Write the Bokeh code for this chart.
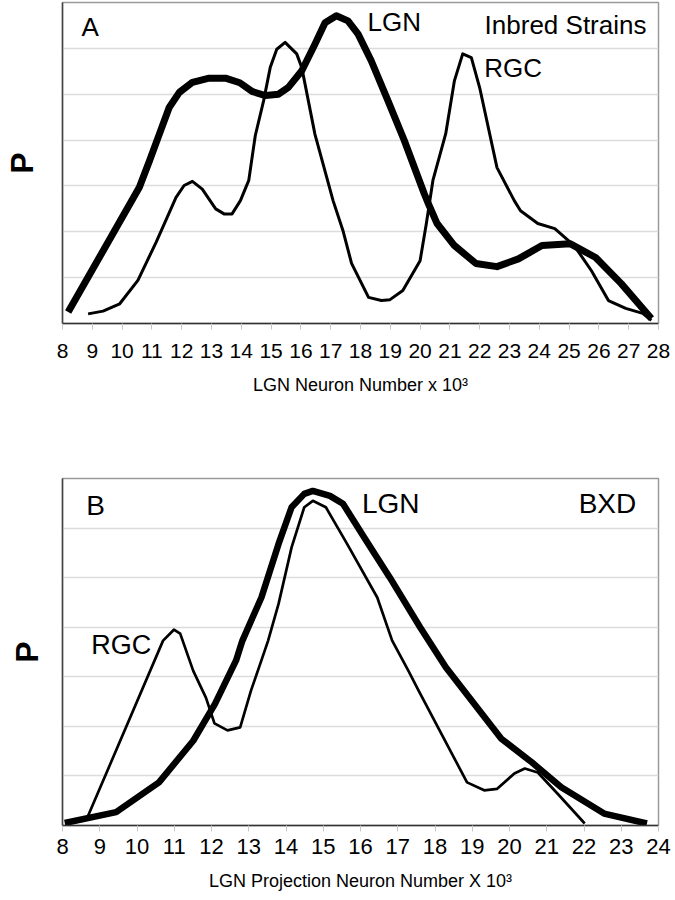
from bokeh.plotting import figure
from bokeh.models import FixedTicker, Label, Range1d
from bokeh.layouts import column
from bokeh.embed import file_html
from bokeh.resources import INLINE

# ---------------- Panel A: Inbred Strains ----------------
a_ticks = list(range(8, 29))
a_xlabel = "LGN Neuron Number x 10³"

lgn_a_x = [8.19, 10.58, 10.92, 11.25, 11.58, 11.92, 12.36, 12.92, 13.47, 13.95, 14.36,
           14.81, 15.25, 15.58, 16.03, 16.47, 16.81, 17.19, 17.58, 17.92, 18.36, 18.92,
           19.47, 20.14, 20.28, 20.57, 21.15, 21.87, 22.58, 23.3, 24.09, 25.03, 25.89,
           26.75, 27.76]
lgn_a_y = [0.25, 2.97, 3.55, 4.13, 4.71, 5.04, 5.26, 5.35, 5.35, 5.25, 5.06,
           4.97, 5.00, 5.15, 5.51, 6.09, 6.56, 6.71, 6.60, 6.31, 5.73, 4.86,
           3.99, 2.83, 2.61, 2.18, 1.70, 1.31, 1.24, 1.41, 1.70, 1.74, 1.44,
           0.87, 0.11]

rgc_a_x = [8.86, 9.36, 9.92, 10.53, 11.14, 11.81, 12.08, 12.36, 12.69, 13.14, 13.42,
           13.69, 13.97, 14.25, 14.47, 14.75, 14.97, 15.19, 15.47, 15.86, 16.03, 16.47,
           17.08, 17.41, 17.7, 18.27, 18.7, 18.99, 19.42, 20.0, 20.21, 20.43, 20.86,
           21.15, 21.43, 21.72, 22.0, 22.58, 23.16, 23.37, 23.95, 24.52, 25.17, 25.75,
           26.32, 26.9, 27.47, 27.76]
rgc_a_y = [0.21, 0.27, 0.43, 0.94, 1.77, 2.75, 3.01, 3.10, 2.93, 2.50, 2.39,
           2.39, 2.68, 3.12, 4.10, 4.86, 5.58, 5.98, 6.13, 5.88, 5.58, 4.13,
           2.68, 2.03, 1.31, 0.57, 0.50, 0.52, 0.72, 1.37, 2.18, 3.12, 4.14,
           5.29, 5.88, 5.80, 5.14, 3.40, 2.68, 2.46, 2.18, 2.07, 1.70, 1.15,
           0.50, 0.33, 0.22, 0.07]

# ---------------- Panel B: BXD ----------------
b_ticks = list(range(8, 25))
b_xlabel = "LGN Projection Neuron Number X 10³"

lgn_b_x = [8.06, 9.44, 10.59, 11.51, 12.09, 12.66, 12.83, 13.34, 13.8, 14.15, 14.49,
           14.72, 15.18, 15.53, 16.1, 16.79, 17.6, 18.29, 19.78, 20.59, 21.39, 22.54, 23.69]
lgn_b_y = [0.05, 0.27, 0.87, 1.71, 2.45, 3.33, 3.73, 4.60, 5.68, 6.42, 6.69,
           6.75, 6.65, 6.49, 5.81, 5.00, 4.00, 3.19, 1.75, 1.28, 0.77, 0.24, 0.04]

rgc_b_x = [8.69, 10.7, 10.99, 11.16, 11.51, 11.85, 12.08, 12.43, 12.77, 13.06, 13.34,
           13.52, 13.8, 14.15, 14.49, 14.72, 15.07, 15.64, 16.45, 16.85, 17.28, 17.56,
           18.86, 19.32, 19.67, 20.13, 20.41, 20.76, 21.28, 22.02]
rgc_b_y = [0.20, 3.73, 3.95, 3.87, 3.12, 2.58, 2.06, 1.92, 1.98, 2.72, 3.33,
           3.73, 4.47, 5.61, 6.42, 6.55, 6.42, 5.68, 4.60, 3.73, 3.13, 2.72,
           0.87, 0.71, 0.74, 1.05, 1.15, 1.07, 0.65, 0.04]

HELV = "Liberation Sans"


def make_panel(xmin, xmax, ticks, xlabel, width, height, mb_left, mb_right, mb_top, mb_bottom,
               tick_size, label_standoff, title_standoff, p_standoff):
    p = figure(width=width, height=height, x_range=Range1d(xmin, xmax), y_range=Range1d(0, 7),
               output_backend="svg", toolbar_location=None,
               min_border_left=mb_left, min_border_right=mb_right,
               min_border_top=mb_top, min_border_bottom=mb_bottom)
    p.background_fill_color = "white"
    p.border_fill_color = "white"
    p.outline_line_color = "#9a9a9a"
    p.outline_line_width = 1.5
    p.xgrid.visible = False
    p.ygrid.ticker = FixedTicker(ticks=[1, 2, 3, 4, 5, 6])
    p.ygrid.grid_line_color = "#dcdcdc"
    p.ygrid.grid_line_width = 1.5

    p.yaxis.ticker = FixedTicker(ticks=[])
    p.yaxis.axis_line_color = "#444444"
    p.yaxis.axis_line_width = 1.5
    p.yaxis.major_tick_line_color = None
    p.yaxis.minor_tick_line_color = None
    p.yaxis.axis_label = "P"
    p.yaxis.axis_label_text_font = HELV
    p.yaxis.axis_label_text_font_size = "32px"
    p.yaxis.axis_label_text_font_style = "bold"
    p.yaxis.axis_label_text_color = "black"
    p.yaxis.axis_label_standoff = p_standoff

    p.xaxis.ticker = FixedTicker(ticks=ticks)
    p.xaxis.minor_tick_line_color = None
    p.xaxis.major_tick_in = 0
    p.xaxis.major_tick_out = 6
    p.xaxis.major_tick_line_color = "#c8c8c8"
    p.xaxis.axis_line_color = "#333333"
    p.xaxis.axis_line_width = 1.5
    p.xaxis.major_label_text_font = HELV
    p.xaxis.major_label_text_font_size = tick_size
    p.xaxis.major_label_text_color = "black"
    p.xaxis.major_label_standoff = label_standoff
    p.xaxis.axis_label = xlabel
    p.xaxis.axis_label_text_font = HELV
    p.xaxis.axis_label_text_font_size = "18px"
    p.xaxis.axis_label_text_font_style = "normal"
    p.xaxis.axis_label_text_color = "black"
    p.xaxis.axis_label_standoff = title_standoff
    return p


def add_label(p, x, y, text, size):
    p.add_layout(Label(x=x, y=y, text=text, text_font=HELV, text_font_size=size,
                       text_align="center", text_baseline="middle", text_color="black"))


pA = make_panel(8, 28, a_ticks, a_xlabel, 675, 403, 62, 13, 2, 80, "21px", 14, 14, 23)
pA.line(rgc_a_x, rgc_a_y, line_width=3, line_color="black", line_join="round")
pA.line(lgn_a_x, lgn_a_y, line_width=7, line_color="black", line_join="round")
add_label(pA, 8.93, 6.47, "A", "26px")
add_label(pA, 19.13, 6.58, "LGN", "26px")
add_label(pA, 24.88, 6.51, "Inbred Strains", "26px")
add_label(pA, 23.12, 5.58, "RGC", "26px")

pB = make_panel(8, 24, b_ticks, b_xlabel, 675, 497, 57, 17, 75, 75, "22px", 7, 14, 18)
pB.line(rgc_b_x, rgc_b_y, line_width=2.7, line_color="black", line_join="round")
pB.line(lgn_b_x, lgn_b_y, line_width=6.5, line_color="black", line_join="round")
add_label(pB, 8.89, 6.45, "B", "28px")
add_label(pB, 16.81, 6.49, "LGN", "28px")
add_label(pB, 22.63, 6.49, "BXD", "28px")
add_label(pB, 9.58, 3.65, "RGC", "27px")

layout = column(pA, pB, spacing=0)
open("out.html", "w").write(file_html(layout, INLINE))
